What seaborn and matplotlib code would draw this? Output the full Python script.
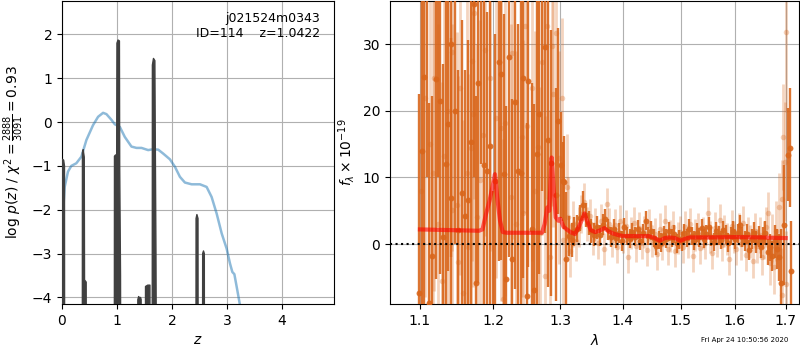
import numpy as np
import matplotlib
matplotlib.use('Agg')
import matplotlib.pyplot as plt
from matplotlib.ticker import ScalarFormatter, NullFormatter, FixedLocator
import seaborn as sns

# --- left panel: redshift fit ---
chi_z = [0.018, 0.049, 0.109, 0.170, 0.261, 0.353, 0.444, 0.565, 0.657, 0.748,
         0.809, 0.900, 0.960, 1.052, 1.143, 1.264, 1.356, 1.447, 1.568, 1.660,
         1.751, 1.842, 1.964, 2.055, 2.146, 2.237, 2.359, 2.511, 2.632, 2.723,
         2.815, 2.906, 2.997, 3.058, 3.100, 3.137, 3.191, 3.228, 3.300]
chi_logp = [-2.09, -1.48, -1.13, -1.00, -0.94, -0.79, -0.41, -0.07, 0.12, 0.21,
            0.18, 0.05, -0.05, -0.11, -0.34, -0.56, -0.59, -0.59, -0.64, -0.62,
            -0.63, -0.72, -0.85, -1.02, -1.25, -1.38, -1.42, -1.42, -1.48, -1.71,
            -2.09, -2.54, -2.89, -3.23, -3.42, -3.47, -3.84, -4.10, -4.60]

pdf_z = [0.000, 0.010, 0.030, 0.045, 0.050,
         0.368, 0.372, 0.385, 0.405, 0.410, 0.440, 0.445,
         0.950, 0.955, 0.975, 0.995, 1.000, 1.020, 1.045, 1.050, 1.065, 1.075,
         1.375, 1.380, 1.395, 1.410, 1.430, 1.440, 1.445,
         1.515, 1.520, 1.560, 1.600, 1.605,
         1.640, 1.645, 1.665, 1.690, 1.698, 1.710, 1.730,
         2.435, 2.440, 2.455, 2.475, 2.480,
         2.555, 2.560, 2.575, 2.590, 2.595, 4.950]
pdf_logp = [-0.90, -0.85, -0.87, -1.00, -10,
            -10, -0.70, -0.63, -0.80, -3.60, -3.65, -10,
            -10, -0.78, -0.75, -0.80, 1.80, 1.87, 1.85, -1.00, -3.50, -10,
            -10, -4.05, -3.98, -4.02, -4.00, -4.05, -10,
            -10, -3.75, -3.72, -3.72, -10,
            -10, 1.30, 1.45, 1.40, -0.50, -3.00, -10,
            -10, -2.20, -2.11, -2.20, -10,
            -10, -3.00, -2.94, -3.00, -10, -10]

# --- right panel: spectrum ---
dk_wave = [1.0990, 1.1030, 1.1057, 1.1090, 1.1123, 1.1163, 1.1207, 1.1238, 1.1265, 1.1309,
           1.1345, 1.1380, 1.1414, 1.1418, 1.1465, 1.1514, 1.1567, 1.1604, 1.1649, 1.1684,
           1.1725, 1.1765, 1.1791, 1.1835, 1.1870, 1.1908, 1.1956, 1.1995, 1.2032, 1.2080,
           1.2118, 1.2161, 1.2185, 1.2233, 1.2277, 1.2321, 1.2355, 1.2400, 1.2440, 1.2489,
           1.2514, 1.2564, 1.2599, 1.2639, 1.2679, 1.2725, 1.2770, 1.2815, 1.2850, 1.2933,
           1.2969, 1.3010, 1.3035, 1.3061, 1.3087,
           1.3130, 1.3175, 1.3220, 1.3265, 1.3310, 1.3355, 1.3400, 1.3445, 1.3490, 1.3535,
           1.3580, 1.3625, 1.3670, 1.3715, 1.3760, 1.3805, 1.3850, 1.3895, 1.3940, 1.3985,
           1.4030, 1.4075, 1.4120, 1.4165, 1.4210, 1.4255, 1.4300, 1.4345, 1.4390, 1.4435,
           1.4480, 1.4525, 1.4570, 1.4615, 1.4660, 1.4705, 1.4750, 1.4795, 1.4840, 1.4885,
           1.4930, 1.4975, 1.5020, 1.5065, 1.5110, 1.5155, 1.5200, 1.5245, 1.5290, 1.5335,
           1.5380, 1.5425, 1.5470, 1.5515, 1.5560, 1.5605, 1.5650, 1.5695, 1.5740, 1.5785,
           1.5830, 1.5875, 1.5920, 1.5965, 1.6010, 1.6055, 1.6100, 1.6145, 1.6190, 1.6235,
           1.6280, 1.6325, 1.6370, 1.6415, 1.6460, 1.6505, 1.6550, 1.6595, 1.6640, 1.6685,
           1.6730, 1.6775, 1.6820, 1.6865, 1.6905, 1.6970, 1.7050, 1.7080, 1.7110]
dk_flux = [-7.4, 14.0, 25.1, 40.0, -8.8, -1.8, 24.8, 38.0, 21.5, 1.0,
           12.0, 18.0, 30.1, 6.9, 20.0, 2.1, 7.6, 4.2, 6.6, 15.4,
           36.0, -5.8, 24.2, 40.0, 11.8, 10.9, 14.7, -12.0, 9.5, 27.4,
           25.6, 10.5, -5.3, 28.1, -2.2, 21.3, 11.0, 10.7, 24.9, -7.8,
           24.5, 2.2, -6.9, 13.6, 19.5, 38.0, 29.6, 15.6, 12.2, 7.4,
           18.5, 11.9, 9.4, 9.3, -2.2,
           1.2, 0.6, 1.9, 2.3, 3.9, 5.9, 4.4, 3.1, 2.0, 1.4,
           2.5, 1.3, 2.9, 3.7, 2.2, 1.0, 2.3, 0.9, 1.7, 0.4,
           2.5, 1.2, 0.8, 1.8, 1.1, 2.2, 0.5, 1.6, 3.5, 1.2,
           2.0, 0.9, -0.3, 0.6, 0.2, 1.3, 0.8, 1.9, 0.9, 1.5,
           0.1, 0.7, 0.4, 1.6, 0.9, 2.3, 1.2, 0.5, 1.7, 1.0,
           2.4, 0.8, 1.5, 2.6, 1.1, 0.3, 1.9, 1.3, 0.6, 2.1,
           1.4, 0.2, 1.2, 2.0, 0.7, 1.6, 2.8, 1.0, 0.4, 1.5,
           -0.9, 0.8, 1.7, 0.3, 1.1, -0.4, 0.9, 1.6, -1.2, -0.5,
           -1.8, 0.4, -0.8, -2.0, -5.8, 2.8, 13.4, 14.5, -4.0]
dk_err = [30, 32, 36, 30, 30, 24, 30, 28, 26, 26,
          25, 22, 32, 24, 20, 24, 26, 22, 24, 30,
          26, 28, 30, 28, 26, 24, 30, 20, 22, 30,
          28, 24, 26, 30, 24, 28, 22, 26, 30, 26,
          28, 22, 28, 26, 24, 30, 28, 22, 20, 16,
          14, 8, 6, 7, 10,
          3.0, 2.6, 2.2, 2.0, 2.0, 2.0, 1.8, 1.8, 1.8, 1.7,
          1.7, 1.6, 1.6, 1.6, 1.6, 1.5, 1.5, 1.5, 1.5, 1.5,
          1.4, 1.4, 1.4, 1.4, 1.4, 1.4, 1.4, 1.4, 1.4, 1.4,
          1.4, 1.4, 1.4, 1.4, 1.4, 1.4, 1.4, 1.4, 1.4, 1.4,
          1.4, 1.4, 1.4, 1.4, 1.4, 1.4, 1.4, 1.4, 1.4, 1.4,
          1.4, 1.4, 1.4, 1.4, 1.4, 1.4, 1.4, 1.4, 1.4, 1.4,
          1.4, 1.4, 1.4, 1.4, 1.4, 1.4, 1.5, 1.5, 1.5, 1.5,
          1.5, 1.5, 1.6, 1.6, 1.6, 1.7, 1.7, 1.8, 1.9, 2.0,
          2.2, 2.5, 3.0, 3.5, 8.0, 9.0, 7.0, 9.0, 7.5]

lt_wave = [1.1010, 1.1066, 1.1132, 1.1167, 1.1185, 1.1240, 1.1287, 1.1318, 1.1370, 1.1423,
           1.1427, 1.1490, 1.1514, 1.1536, 1.1572, 1.1631, 1.1644, 1.1688, 1.1706, 1.1711,
           1.1732, 1.1774, 1.1814, 1.1861, 1.1884, 1.1956, 1.2042, 1.2109, 1.2137, 1.2171,
           1.2253, 1.2267, 1.2330, 1.2425, 1.2440, 1.2464, 1.2499, 1.2564, 1.2620, 1.2664,
           1.2689, 1.2714, 1.2765, 1.2800, 1.2840, 1.2866, 1.2891, 1.2933, 1.2980, 1.3020,
           1.3045, 1.3098, 1.3120,
           1.3150, 1.3195, 1.3240, 1.3285, 1.3330, 1.3375, 1.3420, 1.3465, 1.3510, 1.3555,
           1.3600, 1.3645, 1.3690, 1.3735, 1.3780, 1.3825, 1.3870, 1.3915, 1.3960, 1.4005,
           1.4050, 1.4095, 1.4140, 1.4185, 1.4230, 1.4275, 1.4320, 1.4365, 1.4410, 1.4455,
           1.4500, 1.4545, 1.4590, 1.4635, 1.4680, 1.4725, 1.4770, 1.4815, 1.4860, 1.4905,
           1.4950, 1.4995, 1.5040, 1.5085, 1.5130, 1.5175, 1.5220, 1.5265, 1.5310, 1.5355,
           1.5400, 1.5445, 1.5490, 1.5535, 1.5580, 1.5625, 1.5670, 1.5715, 1.5760, 1.5805,
           1.5850, 1.5895, 1.5940, 1.5985, 1.6030, 1.6075, 1.6120, 1.6165, 1.6210, 1.6255,
           1.6300, 1.6345, 1.6390, 1.6435, 1.6480, 1.6525, 1.6570, 1.6615, 1.6638, 1.6680,
           1.6720, 1.6765, 1.6810, 1.6860, 1.6920, 1.6925, 1.6954, 1.6980, 1.7000, 1.7016]
lt_flux = [8.0, 22.0, 15.1, 10.6, 25.0, 3.0, -5.6, 13.2, 20.0, 5.1,
           28.9, 5.8, -2.7, 23.4, -7.4, 10.6, -0.4, 14.5, 27.5, 19.5,
           34.7, 4.0, 9.6, 16.4, 29.2, 24.9, 18.9, 17.5, -8.2, 18.2,
           7.1, 28.7, 3.0, 16.1, 4.6, 32.7, 17.7, 23.4, 8.0, 14.6,
           1.6, 27.4, -4.8, 32.7, -1.9, 29.7, 22.6, 31.7, 13.0, 22.0,
           0.6, 8.6, 4.0,
           -1.0, 3.0, 0.5, 2.6, 4.5, 6.3, 3.0, 4.2, 0.8, 2.9,
           0.2, 3.5, -0.8, 6.0, 3.0, 0.5, 2.8, -0.5, 3.4, 1.0,
           2.7, -2.0, 1.6, 3.1, -0.3, 2.4, 0.1, 1.8, -0.9, 2.9,
           0.4, 1.5, -1.5, 2.2, 0.0, 3.4, -0.7, 1.2, 2.6, -1.1,
           0.9, 1.8, -0.4, 2.5, 0.3, 3.0, -1.8, 1.4, 2.2, -0.6,
           1.7, 0.2, 4.6, 1.0, -1.3, 2.4, 0.5, 3.6, -0.2, 1.9,
           0.8, -2.2, 2.7, 1.1, -0.8, 2.3, 0.0, 3.2, -1.6, 1.5,
           0.4, -2.6, 2.0, -0.3, 1.3, -1.9, 0.6, 2.5, 4.6, -2.8,
           0.9, -3.5, 2.0, 5.6, 6.7, -7.6, 16.1, 12.4, -6.0, 31.9]
lt_err = [35, 30, 28, 30, 32, 30, 30, 28, 30, 28,
          30, 26, 28, 28, 26, 26, 26, 28, 30, 26,
          28, 26, 24, 26, 28, 26, 24, 26, 24, 26,
          26, 28, 26, 24, 26, 28, 26, 26, 24, 24,
          22, 26, 24, 26, 22, 24, 20, 20, 16, 12,
          12, 8, 6,
          4.0, 3.5, 3.0, 3.0, 2.8, 2.8, 2.6, 2.6, 2.5, 2.5,
          2.5, 2.5, 2.4, 2.4, 2.4, 2.4, 2.4, 2.4, 2.4, 2.4,
          2.4, 2.4, 2.4, 2.4, 2.4, 2.4, 2.4, 2.4, 2.4, 2.4,
          2.4, 2.4, 2.4, 2.4, 2.4, 2.4, 2.4, 2.4, 2.4, 2.4,
          2.4, 2.4, 2.4, 2.4, 2.4, 2.4, 2.4, 2.4, 2.4, 2.4,
          2.4, 2.4, 2.4, 2.4, 2.4, 2.4, 2.4, 2.4, 2.4, 2.4,
          2.4, 2.4, 2.4, 2.4, 2.4, 2.4, 2.4, 2.5, 2.5, 2.5,
          2.5, 2.5, 2.6, 2.6, 2.7, 2.8, 2.9, 3.0, 3.2, 3.4,
          3.6, 4.0, 4.5, 5.0, 6.0, 7.0, 8.0, 9.0, 8.0, 12.0]

model_wave = [1.100, 1.140, 1.180, 1.185, 1.190, 1.195, 1.200, 1.2027, 1.206, 1.210,
              1.214, 1.220, 1.250, 1.272, 1.276, 1.280, 1.283, 1.2867, 1.290, 1.293,
              1.297, 1.300, 1.305, 1.310, 1.316, 1.323, 1.330, 1.338, 1.344, 1.348,
              1.355, 1.362, 1.370, 1.377, 1.384, 1.395, 1.402, 1.444, 1.455, 1.463,
              1.472, 1.481, 1.490, 1.500, 1.508, 1.517, 1.550, 1.600, 1.650, 1.700]
model_flux = [2.2, 2.1, 2.0, 2.2, 4.5, 6.5, 9.0, 10.5, 7.0, 3.5,
              1.8, 1.7, 1.7, 1.7, 3.0, 5.5, 5.0, 13.0, 8.0, 4.0,
              3.5, 3.8, 2.6, 2.2, 1.8, 1.5, 2.8, 4.6, 3.0, 2.1,
              1.8, 2.0, 2.4, 1.9, 1.6, 1.3, 1.2, 1.2, 0.9, 0.5,
              0.9, 1.0, 0.9, 0.5, 0.8, 1.0, 1.0, 1.05, 1.0, 0.9]

wave_ticks = [1.1, 1.2, 1.3, 1.4, 1.5, 1.6, 1.7]

orange = '#d9661b'

fig = plt.figure(figsize=(8, 3.5), dpi=100)
ax1 = fig.add_axes([0.0775, 0.1314, 0.34, 0.8657])
ax2 = fig.add_axes([0.4875, 0.1314, 0.511, 0.8657])

# left: chi2 curve + p(z)
sns.lineplot(x=chi_z, y=chi_logp, ax=ax1, color='tab:blue', alpha=0.5, lw=1.8,
             sort=False, estimator=None, zorder=2)
ax1.fill_between(pdf_z, pdf_logp, -10, color='0.25', lw=0, zorder=3)
sns.lineplot(x=pdf_z, y=pdf_logp, ax=ax1, color='0.25', lw=1.0,
             sort=False, estimator=None, zorder=3)
ax1.set_xlim(0, 4.95)
ax1.set_ylim(-4.15, 2.76)
ax1.grid(zorder=0)
ax1.set_axisbelow(True)
ax1.set_xlabel(r'$z$')
ax1.set_ylabel(r'log $p(z)$ / $\chi^2=\frac{2888}{3091}=0.93$')
ax1.text(0.95, 0.965, 'j021524m0343\nID=114    z=1.0422', transform=ax1.transAxes,
         ha='right', va='top', fontsize=9)

# right: spectrum
ax2.set_xscale('log')
ax2.errorbar(lt_wave, lt_flux, yerr=lt_err, fmt='none', ecolor=orange, alpha=0.28,
             elinewidth=2.0, capsize=0, zorder=2)
sns.scatterplot(x=lt_wave, y=lt_flux, ax=ax2, color=orange, alpha=0.3, s=16,
                linewidth=0, zorder=2)
ax2.errorbar(dk_wave, dk_flux, yerr=dk_err, fmt='none', ecolor=orange, alpha=0.9,
             elinewidth=1.7, capsize=0, zorder=3)
sns.scatterplot(x=dk_wave, y=dk_flux, ax=ax2, color=orange, alpha=0.9, s=18,
                linewidth=0, zorder=3)
sns.lineplot(x=model_wave, y=model_flux, ax=ax2, color='r', alpha=0.6, lw=3,
             sort=False, estimator=None, zorder=4)
ax2.axhline(0, color='k', ls=':', lw=1.5, zorder=5)

ax2.set_xlim(1.0615, 1.7267)
ax2.set_ylim(-9.0, 36.5)
ax2.xaxis.set_major_locator(FixedLocator(wave_ticks))
ax2.xaxis.set_major_formatter(ScalarFormatter())
ax2.xaxis.set_minor_formatter(NullFormatter())
ax2.xaxis.set_minor_locator(FixedLocator([]))
ax2.grid(zorder=0)
ax2.set_axisbelow(True)
ax2.set_xlabel(r'$\lambda$')
ax2.set_ylabel(r'$f_\lambda\times10^{-19}$')

fig.text(0.985, 0.02, 'Fri Apr 24 10:50:56 2020', ha='right', va='bottom', fontsize=5)

fig.savefig('out.png', dpi=100)
